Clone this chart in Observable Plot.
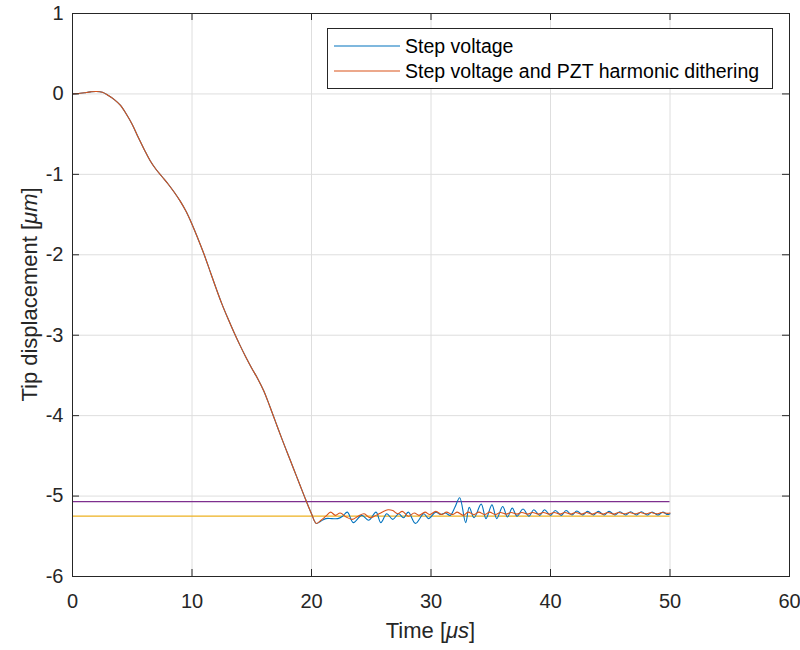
<!DOCTYPE html>
<html><head><meta charset="utf-8">
<script src="https://cdn.jsdelivr.net/npm/d3@7"></script>
<script src="https://cdn.jsdelivr.net/npm/@observablehq/plot@0.6"></script>
<style>body{margin:0;background:#fff}#chart{width:800px;height:650px}</style>
</head><body><div id="chart"></div>
<script>
// ---- data ----
const seriesNames = ["Step voltage", "Step voltage and PZT harmonic dithering"];
const seriesColors = ["#0072BD", "#D95319"];

// shared transient (both series overlap)
const commonT = [0,0.5,1,1.5,2,2.5,3,3.5,4,4.5,5,5.5,6,6.5,7,7.5,8,8.5,9,9.5,10,10.5,11,11.5,12,12.5,13,13.5,14,14.5,15,15.5,16,16.5,17,17.5,18,18.5,19,19.5,20,20.4];
const commonY = [0,0.005,0.015,0.025,0.03,0.02,-0.02,-0.07,-0.14,-0.25,-0.38,-0.54,-0.69,-0.83,-0.94,-1.03,-1.12,-1.22,-1.33,-1.46,-1.62,-1.80,-1.99,-2.2,-2.41,-2.61,-2.79,-2.96,-3.12,-3.27,-3.41,-3.54,-3.69,-3.88,-4.08,-4.28,-4.47,-4.66,-4.85,-5.04,-5.22,-5.34];

// step voltage tail
const blueT = [20.8,21.2,21.7,22.2,22.6,23.0,23.5,24.2,24.8,25.4,25.8,26.3,26.8,27.3,27.7,28.1,28.7,29.4,29.8,30.4,30.8,31.2,31.6,32.0,32.4,32.9,33.2,33.6,34.2,34.6,35.1,35.5,36.0,36.4,36.8,37.2,37.7,38.2,38.6,39.1,39.5,40.0,40.4,40.9,41.3,41.8,42.2,42.7,43.1,43.6,44.0,44.5,44.9,45.4,45.8,46.3,46.7,47.2,47.6,48.1,48.5,49.0,49.4,49.8,50.0];
const blueY = [-5.31,-5.28,-5.28,-5.28,-5.25,-5.20,-5.33,-5.24,-5.30,-5.20,-5.33,-5.22,-5.29,-5.22,-5.27,-5.20,-5.34,-5.22,-5.28,-5.20,-5.23,-5.21,-5.24,-5.14,-5.02,-5.33,-5.14,-5.27,-5.10,-5.28,-5.11,-5.28,-5.13,-5.26,-5.15,-5.25,-5.16,-5.25,-5.17,-5.24,-5.17,-5.24,-5.18,-5.24,-5.18,-5.235,-5.185,-5.235,-5.19,-5.235,-5.19,-5.235,-5.19,-5.235,-5.195,-5.235,-5.195,-5.235,-5.195,-5.235,-5.2,-5.235,-5.2,-5.23,-5.22];

// step voltage + dithering tail
const orangeT = [20.8,21.2,21.6,22.0,22.4,22.9,23.4,23.9,24.4,24.9,25.4,25.9,26.4,26.8,27.2,27.6,28.1,28.6,29.0,29.5,29.9,30.4,30.9,31.3,31.8,32.2,32.7,33.1,33.6,34.0,34.5,34.9,35.4,35.8,36.3,36.7,37.2,37.6,38.1,38.5,39.0,39.4,39.9,40.3,40.8,41.2,41.7,42.1,42.6,43.0,43.5,43.9,44.4,44.8,45.3,45.7,46.2,46.6,47.1,47.5,48.0,48.4,48.9,49.3,49.8,50.0];
const orangeY = [-5.30,-5.25,-5.20,-5.24,-5.21,-5.26,-5.29,-5.25,-5.22,-5.27,-5.24,-5.20,-5.17,-5.18,-5.22,-5.19,-5.25,-5.21,-5.24,-5.20,-5.23,-5.19,-5.23,-5.20,-5.23,-5.20,-5.24,-5.20,-5.23,-5.20,-5.23,-5.20,-5.23,-5.205,-5.225,-5.205,-5.225,-5.205,-5.225,-5.205,-5.225,-5.205,-5.225,-5.205,-5.225,-5.205,-5.225,-5.205,-5.225,-5.205,-5.225,-5.205,-5.225,-5.205,-5.225,-5.205,-5.22,-5.205,-5.22,-5.205,-5.22,-5.205,-5.22,-5.205,-5.215,-5.21];

// reference levels
const refValues = [-5.07, -5.25];
const refColors = ["#7E2F8E", "#EDB120"];
const refStart = 0, refEnd = 50;

const xTicks = [0,10,20,30,40,50,60];
const yTicks = [1,0,-1,-2,-3,-4,-5,-6];

// ---- build tables ----
const data = [];
seriesNames.forEach((s, i) => {
  commonT.forEach((t, j) => data.push({series: s, t, y: commonY[j]}));
  const T = i === 0 ? blueT : orangeT, Y = i === 0 ? blueY : orangeY;
  T.forEach((t, j) => data.push({series: s, t, y: Y[j]}));
});
const refs = refValues.map((v, i) => ({v, c: refColors[i], x1: refStart, x2: refEnd}));

const W = 800, H = 650, mL = 72, mR = 11, mT = 13, mB = 74;
const pw = W - mL - mR, ph = H - mT - mB, tk = 7;
const ink = "#262626";
const font = "'Liberation Sans', Arial, Helvetica, sans-serif";
const fmt = d => (d < 0 ? "-" : "") + Math.abs(d);

const plot = Plot.plot({
  width: W, height: H,
  marginLeft: mL, marginRight: mR, marginTop: mT, marginBottom: mB,
  style: {fontFamily: font, background: "#fff", color: ink},
  x: {domain: [0, 60], label: null},
  y: {domain: [-6, 1], label: null},
  color: {domain: seriesNames, range: seriesColors},
  marks: [
    Plot.gridX(xTicks, {stroke: "#dedede", strokeOpacity: 1}),
    Plot.gridY(yTicks, {stroke: "#dedede", strokeOpacity: 1}),
    Plot.ruleY(refs, {y: "v", x1: "x1", x2: "x2", stroke: "c", strokeWidth: 1.2}),
    Plot.line(data, {x: "t", y: "y", z: "series", stroke: "series", strokeWidth: 1.1, curve: "catmull-rom"}),
    Plot.frame({stroke: ink, strokeWidth: 1}),
    Plot.tickX(xTicks, {x: d => d, insetTop: ph - tk, stroke: ink}),
    Plot.tickX(xTicks, {x: d => d, insetBottom: ph - tk, stroke: ink}),
    Plot.tickY(yTicks, {y: d => d, insetRight: pw - tk, stroke: ink}),
    Plot.tickY(yTicks, {y: d => d, insetLeft: pw - tk, stroke: ink}),
    Plot.axisX(xTicks, {tickSize: 0, tickPadding: 17, fontSize: 20, label: null, fill: ink, tickFormat: fmt}),
    Plot.axisY(yTicks, {tickSize: 0, tickPadding: 9, fontSize: 20, label: null, fill: ink, tickFormat: fmt})
  ]
});
document.getElementById("chart").appendChild(plot);

// axis labels and legend
const svg = d3.select(plot);
const xl = svg.append("text").attr("x", mL + pw / 2).attr("y", 638)
  .attr("text-anchor", "middle").attr("font-size", 22).attr("font-family", font).attr("fill", ink);
xl.append("tspan").text("Time [");
xl.append("tspan").attr("font-style", "italic").text("μs");
xl.append("tspan").text("]");

const yl = svg.append("text").attr("transform", `translate(37,${mT + ph / 2}) rotate(-90)`)
  .attr("text-anchor", "middle").attr("font-size", 22).attr("font-family", font).attr("fill", ink);
yl.append("tspan").text("Tip displacement [");
yl.append("tspan").attr("font-style", "italic").text("μm");
yl.append("tspan").text("]");

const lg = svg.append("g");
lg.append("rect").attr("x", 327.5).attr("y", 28.5).attr("width", 445).attr("height", 60)
  .attr("fill", "#fff").attr("stroke", ink).attr("stroke-width", 1);
seriesNames.forEach((s, i) => {
  const yy = 46 + i * 25;
  lg.append("line").attr("x1", 334).attr("x2", 400).attr("y1", yy).attr("y2", yy)
    .attr("stroke", seriesColors[i]).attr("stroke-width", 1.1);
  lg.append("text").attr("x", 405).attr("y", yy).attr("dy", "0.35em").attr("text-anchor", "start")
    .attr("font-size", 19.5).attr("font-family", font).attr("fill", "#000").text(s);
});
</script>
</body></html>
